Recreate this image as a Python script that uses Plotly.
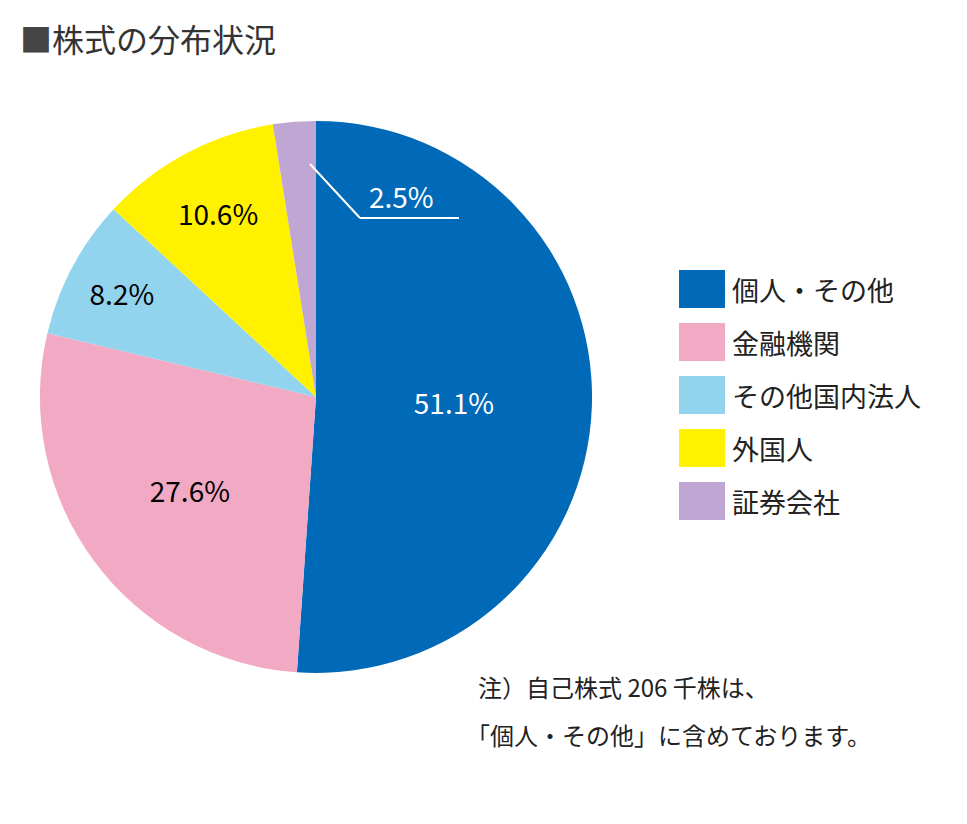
import plotly.graph_objects as go

labels = ['個人・その他', '金融機関', 'その他国内法人', '外国人', '証券会社']
values = [51.1, 27.6, 8.2, 10.6, 2.5]
colors = ['#0069b8', '#f2a9c4', '#92d3ee', '#fff100', '#c0a6d2']
text_colors = ['white', 'black', 'black', 'black', 'rgba(0,0,0,0)']

# pie is drawn clockwise from 12 o'clock
fig = go.Figure(go.Pie(
    labels=labels, values=values, sort=False, direction='clockwise', rotation=0,
    marker=dict(colors=colors, line=dict(width=0)),
    text=[f'{v}%' for v in values], textinfo='text', textposition='inside',
    insidetextorientation='horizontal',
    textfont=dict(size=28, color=text_colors, family='Noto Sans CJK JP'),
    domain=dict(x=[0.033, 0.604], y=[0.193, 0.863]),
    showlegend=False, hoverinfo='label+percent'))

font = 'Noto Sans CJK JP'
fig.add_annotation(x=10, y=794, xref='x', yref='y', text='<span style="color:#444">■</span>株式の分布状況',
                   showarrow=False, xanchor='left', yanchor='middle', font=dict(size=32, color='#333', family=font))

# label for the small slice with leader line
fig.add_shape(type='line', x0=302, y0=668, x1=352, y1=614, xref='x', yref='y', line=dict(color='white', width=2))
fig.add_shape(type='line', x0=352, y0=614, x1=451, y1=614, xref='x', yref='y', line=dict(color='white', width=2))
fig.add_annotation(x=393, y=636, xref='x', yref='y', text=f'{values[4]}%', showarrow=False,
                   font=dict(size=28, color='white', family=font))

# custom legend
for i, lab in enumerate(labels):
    yc = 543 - i * 53
    fig.add_shape(type='rect', x0=671, x1=717, y0=yc - 19, y1=yc + 19, xref='x', yref='y',
                  line=dict(width=0), fillcolor=colors[i])
    fig.add_annotation(x=722, y=yc, xref='x', yref='y', text=lab, showarrow=False, xanchor='left',
                       font=dict(size=27, color='#222', family=font))

fig.add_annotation(x=468, y=146, xref='x', yref='y', text='注）自己株式 206 千株は、', showarrow=False,
                   xanchor='left', font=dict(size=24, color='#222', family=font))
fig.add_annotation(x=456, y=98, xref='x', yref='y', text='「個人・その他」に含めております。', showarrow=False,
                   xanchor='left', font=dict(size=24, color='#222', family=font))

fig.update_layout(
    width=967, height=824, margin=dict(l=0, r=0, t=0, b=0),
    paper_bgcolor='white', plot_bgcolor='white',
    xaxis=dict(range=[0, 967], visible=False, fixedrange=True),
    yaxis=dict(range=[0, 824], visible=False, fixedrange=True),
)
fig.write_html('out.html')
